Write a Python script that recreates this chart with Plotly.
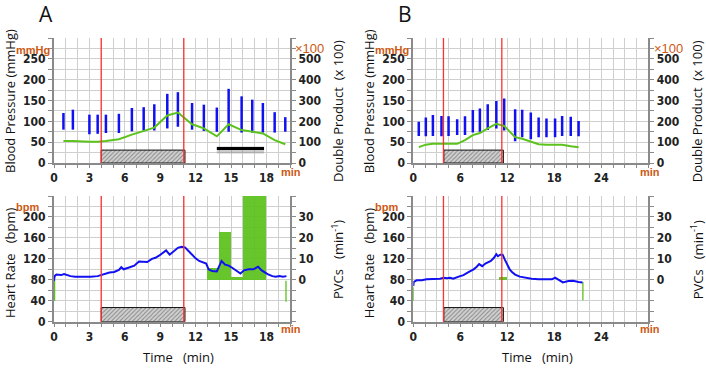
import plotly.graph_objects as go

# ---------------- data ----------------
# Panel A - blood pressure (min, systolic, diastolic) and double product (x100)
t_bp_a = [0.8, 1.6, 3.0, 3.7, 4.4, 5.5, 6.6, 7.6, 8.5, 9.6, 10.5, 11.7, 12.7, 13.8, 14.8, 15.9, 16.8, 17.7, 18.7, 19.6]
sys_a = [120, 128, 116, 116, 116, 118, 132, 134, 141, 166, 170, 144, 140, 133, 178, 160, 152, 144, 122, 110]
dia_a = [80, 80, 69, 70, 72, 72, 76, 78, 78, 83, 87, 80, 77, 75, 75, 73, 73, 73, 73, 75]
dp_a = [106, 106, 102, 102, 106, 114, 136, 152, 170, 228, 242, 186, 166, 128, 186, 158, 150, 142, 110, 90]

# Panel A - heart rate
t_hr_a = [0.0, 0.05, 0.2, 0.6, 0.85, 1.0, 1.4, 1.8, 2.3, 2.7, 3.1, 3.7, 4.3, 4.7, 5.1, 5.5, 5.7, 5.9, 6.3, 6.8,
          7.2, 7.5, 7.9, 8.3, 8.6, 8.9, 9.2, 9.5, 9.8, 10.2, 10.5, 10.8, 11.1, 11.4, 11.7, 12.0, 12.3, 12.6, 12.9,
          13.1, 13.4, 13.8, 14.0, 14.2, 14.5, 14.8, 15.1, 15.5, 15.8, 16.1, 16.5, 16.9, 17.3, 17.6, 17.8, 18.1,
          18.5, 18.8, 19.1, 19.4, 19.7]
hr_a = [78, 87, 90, 89, 91, 90, 87, 86, 86, 85, 86, 87, 91, 94, 95, 99, 104, 100, 103, 107,
        115, 114, 114, 120, 122, 126, 131, 136, 128, 136, 141, 143, 142, 135, 127, 121, 116, 114, 111,
        100, 97, 96, 105, 116, 109, 107, 103, 96, 92, 98, 100, 100, 105, 98, 95, 91,
        87, 86, 87, 86, 87]
# Panel A - PVC counts (per-minute bins)
t_pvc_a = [13.5, 14.5, 15.5, 16.5, 17.5]
pvc_a = [5.5, 23, 1.5, 40, 40]

# Panel A - event markers
red_a = [4.0, 11.0]
exercise_a = [4.0, 11.1]
black_bar_a = [13.8, 17.8]
hr_marks_a = [(0.05, 40, 79), (19.66, 38, 78)]

# Panel B
t_bp_b = [0.7, 1.6, 2.5, 3.6, 4.5, 5.6, 6.6, 7.6, 8.5, 9.5, 10.6, 11.6, 13.0, 13.9, 15.0, 16.0, 17.0, 18.1, 19.0, 20.1, 21.1]
sys_b = [99, 109, 115, 113, 112, 105, 112, 127, 131, 141, 149, 155, 129, 128, 121, 109, 107, 107, 113, 111, 101]
dia_b = [65, 64, 65, 64, 65, 67, 67, 73, 75, 79, 83, 78, 52, 62, 57, 62, 62, 62, 65, 65, 64]
dp_b = [76, 88, 92, 94, 92, 92, 110, 134, 144, 166, 188, 178, 124, 116, 104, 90, 88, 88, 88, 80, 76]

t_hr_b = [0.0, 0.05, 0.43, 1.07, 1.7, 2.6, 3.4, 3.9, 4.3, 4.7, 5.1, 5.8, 6.4, 7.1, 7.7, 8.1, 8.4, 8.8, 9.2, 9.9,
          10.3, 10.6, 10.8, 11.1, 11.4, 11.7, 12.0, 12.3, 12.6, 13.0, 13.6, 14.3, 15.1, 16.0, 16.8, 17.7, 18.1,
          18.5, 19.1, 19.8, 20.4, 21.1, 21.6]
hr_b = [68, 76, 79, 79, 81, 81, 82, 84, 83, 84, 82, 86, 89, 95, 100, 105, 110, 106, 111, 116,
        122, 129, 125, 128, 128, 118, 108, 100, 95, 90, 86, 84, 82, 81, 81, 81, 84,
        81, 75, 77.5, 78, 76, 75]
t_pvc_b = [11.5]
pvc_b = [1.2]

red_b = [3.85, 11.3]
exercise_b = [3.9, 11.5]
hr_marks_b = [(0.0, 40, 66), (21.65, 41, 76)]

# tick labels
bp_ticks = [0, 50, 100, 150, 200, 250]
dp_ticks = [0, 100, 200, 300, 400, 500]
hr_ticks = [0, 40, 80, 120, 160, 200]
pvc_ticks = [0, 10, 20, 30]
time_ticks_a = [0, 3, 6, 9, 12, 15, 18]
time_ticks_b = [0, 6, 12, 18, 24]

# ---------------- style ----------------
W, H = 706, 369
BLUE = "#1010f0"
GREEN = "#5cc21c"
RED = "#ff3030"
ORANGE = "#cc5a14"
GRID = "#cfcfcf"
AXIS = "#8a8a8a"
TICKFONT = dict(family="DejaVu Sans Condensed, Liberation Sans Narrow, sans-serif", size=12, color="#222", weight="bold")
TITLEFONT = dict(family="Open Sans, sans-serif", size=13, color="#111")
BOX_TOP_BP = 31
BOX_TOP_HR = 27


def px(x, y):
    return x / W, 1 - y / H


def bp_bars(t, s, d):
    xs, ys = [], []
    for ti, si, di in zip(t, s, d):
        xs += [ti, ti, None]
        ys += [di, si, None]
    return xs, ys


fig = go.Figure()


def add_panel(xa, ybp, ydp, xb, yhr, ypvc, t_bp, sys_, dia_, dp, t_hr, hr, t_pvc, pvc, ex, marks, black=None):
    # hatched exercise boxes
    for xaxis, yaxis, top in [(xa, ybp, BOX_TOP_BP), (xb, yhr, BOX_TOP_HR)]:
        fig.add_trace(go.Scatter(
            x=[ex[0], ex[1], ex[1], ex[0], ex[0]], y=[0, 0, top, top, 0],
            fill="toself", mode="lines", line=dict(color="#111", width=1),
            fillcolor="#c8c8c8",
            fillpattern=dict(shape="/", fgcolor="#444", bgcolor="#d2d2d2", size=3, solidity=0.35),
            xaxis=xaxis, yaxis=yaxis, hoverinfo="skip", showlegend=False))
    if black is not None:
        fig.add_trace(go.Scatter(x=black, y=[31, 31], mode="lines",
                                 line=dict(color="rgba(110,110,110,0.35)", width=7),
                                 xaxis=xa, yaxis=ybp, showlegend=False))
        fig.add_trace(go.Scatter(x=black, y=[35, 35], mode="lines",
                                 line=dict(color="#000", width=3),
                                 xaxis=xa, yaxis=ybp, showlegend=False))
    bx, by = bp_bars(t_bp, sys_, dia_)
    fig.add_trace(go.Scatter(x=bx, y=by, mode="lines", line=dict(color=BLUE, width=2.5),
                             xaxis=xa, yaxis=ybp, showlegend=False))
    fig.add_trace(go.Scatter(x=t_bp, y=dp, mode="lines", line=dict(color=GREEN, width=2),
                             xaxis=xa, yaxis=ydp, showlegend=False))
    # PVC bars (base axis of lower subplot)
    fig.add_trace(go.Bar(x=t_pvc, y=pvc, width=[1] * len(t_pvc), marker=dict(color=GREEN, line=dict(width=0)),
                         opacity=0.92, xaxis=xb, yaxis=ypvc, showlegend=False))
    # HR markers & line (overlaying axis, drawn above bars)
    for (mx, m0, m1) in marks:
        fig.add_trace(go.Scatter(x=[mx, mx], y=[m0, m1], mode="lines", line=dict(color=GREEN, width=1.3),
                                 xaxis=xb, yaxis=yhr, showlegend=False))
    fig.add_trace(go.Scatter(x=t_hr, y=hr, mode="lines", line=dict(color=BLUE, width=2),
                             xaxis=xb, yaxis=yhr, showlegend=False))


add_panel("x", "y", "y2", "x2", "y3", "y4", t_bp_a, sys_a, dia_a, dp_a, t_hr_a, hr_a, t_pvc_a, pvc_a,
          exercise_a, hr_marks_a, black=black_bar_a)
add_panel("x3", "y5", "y6", "x4", "y7", "y8", t_bp_b, sys_b, dia_b, dp_b, t_hr_b, hr_b, t_pvc_b, pvc_b,
          exercise_b, hr_marks_b)

xa_dom = [54 / W, 290 / W]
xb_dom = [413.3 / W, 648.3 / W]
top_dom = [1 - 163 / H, 1 - 38 / H]
bot_dom = [1 - 321.7 / H, 1 - 196 / H]


def tick_setup(lo, hi, step, labels):
    vals, text = [], []
    v = lo
    while v <= hi + 1e-9:
        if any(abs(v - l) < 1e-6 for l in labels):
            vals.append(round(v, 3))
            text.append(str(int(round(v))))
        v += step
    return vals, text


common = dict(showline=True, linecolor=AXIS, linewidth=2, ticks="outside", tickcolor=AXIS, ticklen=4,
              tickwidth=1, zeroline=False, tickfont=TICKFONT, gridcolor=GRID, gridwidth=1, fixedrange=True,
              automargin=False)


def xaxis(dom, anchor, hi, step, labels):
    v, t = tick_setup(0, hi, step, labels)
    d = dict(domain=dom, anchor=anchor, range=[0, hi], tickmode="array", tickvals=v, ticktext=t,
             showgrid=True, tickangle=0, **common)
    d["ticklen"] = 3
    d["minor"] = dict(ticks="outside", ticklen=3, tickcolor=AXIS, tick0=0, dtick=step, showgrid=True,
                      gridcolor=GRID, gridwidth=1)
    return d


def yaxis(rng, step, labels, side, grid, anchor, dom=None, overlaying=None):
    v, t = tick_setup(rng[0], rng[1], step, labels)
    d = dict(range=rng, tickmode="array", tickvals=v, ticktext=t, side=side, showgrid=grid, anchor=anchor, **common)
    d["minor"] = dict(ticks="outside", ticklen=4, tickcolor=AXIS, tick0=rng[0], dtick=step, showgrid=grid,
                      gridcolor=GRID, gridwidth=1)
    if dom is not None:
        d["domain"] = dom
    if overlaying is not None:
        d["overlaying"] = overlaying
    return d


fig.update_layout(
    width=W, height=H, autosize=False, margin=dict(l=0, r=0, t=0, b=0, autoexpand=False),
    paper_bgcolor="white", plot_bgcolor="white", showlegend=False, bargap=0,
    xaxis=xaxis(xa_dom, "y", 20, 1, time_ticks_a),
    yaxis=yaxis([0, 300], 25, bp_ticks, "left", True, "x", dom=top_dom),
    yaxis2=yaxis([0, 600], 50, dp_ticks, "right", False, "x", overlaying="y"),
    xaxis2=xaxis(xa_dom, "y4", 20, 1, time_ticks_a),
    yaxis4=yaxis([-20, 40], 5, pvc_ticks, "right", True, "x2", dom=bot_dom),
    yaxis3=yaxis([0, 240], 20, hr_ticks, "left", False, "x2", overlaying="y4"),
    xaxis3=xaxis(xb_dom, "y5", 30, 1.5, time_ticks_b),
    yaxis5=yaxis([0, 300], 25, bp_ticks, "left", True, "x3", dom=top_dom),
    yaxis6=yaxis([0, 600], 50, dp_ticks, "right", False, "x3", overlaying="y5"),
    xaxis4=xaxis(xb_dom, "y8", 30, 1.5, time_ticks_b),
    yaxis8=yaxis([-20, 40], 5, pvc_ticks, "right", True, "x4", dom=bot_dom),
    yaxis7=yaxis([0, 240], 20, hr_ticks, "left", False, "x4", overlaying="y8"),
)

# red event lines
for xr, ys in [("x", "y domain"), ("x2", "y4 domain")]:
    for v in red_a:
        fig.add_shape(type="line", xref=xr, yref=ys, x0=v, x1=v, y0=0, y1=1, line=dict(color=RED, width=1.3))
for xr, ys in [("x3", "y5 domain"), ("x4", "y8 domain")]:
    for v in red_b:
        fig.add_shape(type="line", xref=xr, yref=ys, x0=v, x1=v, y0=0, y1=1, line=dict(color=RED, width=1.3))


def ann(x, y, text, font, angle=0, xanchor="center"):
    ax, ay = px(x, y)
    fig.add_annotation(x=ax, y=ay, xref="paper", yref="paper", text=text, showarrow=False, borderpad=0,
                       font=font, textangle=angle, xanchor=xanchor, yanchor="middle")


big = dict(family="Open Sans, Liberation Sans, sans-serif", size=21, color="#111")
unit = dict(family="Liberation Sans, Arial, sans-serif", size=11, color=ORANGE, weight="bold")
unit2 = dict(family="Liberation Sans, Arial, sans-serif", size=13, color=ORANGE)
NB = "\u00a0"

for dx, letter in ((0, "A"), (359.3, "B")):
    ann(46 + dx, 14, letter, big)
    ann(33 + dx, 50, "mmHg", unit)
    ann(309 + dx, 48, "×100", unit2)
    ann(291 + dx, 172, "min", unit)
    ann(291 + dx, 329, "min", unit)
    ann(27 + dx, 207, "bpm", unit)
    ann(10 + dx, 101, "Blood Pressure (mmHg)", TITLEFONT, angle=-90)
    ann(10 + dx, 263, "Heart Rate" + NB * 3 + "(bpm)", TITLEFONT, angle=-90)
    ann(338 + dx, 111, "Double Product" + NB * 2 + "(x 100)", TITLEFONT, angle=-90)
    ann(337 + dx, 260, "PVCs" + NB * 3 + "(min<sup>-1</sup>)", TITLEFONT, angle=-90)
    ann(170 + dx + 8, 357, "Time" + NB * 3 + "(min)", TITLEFONT)

fig.write_html("out.html", config={"displayModeBar": False},
               post_script="document.body.style.margin='0';document.body.style.overflow='hidden';")
